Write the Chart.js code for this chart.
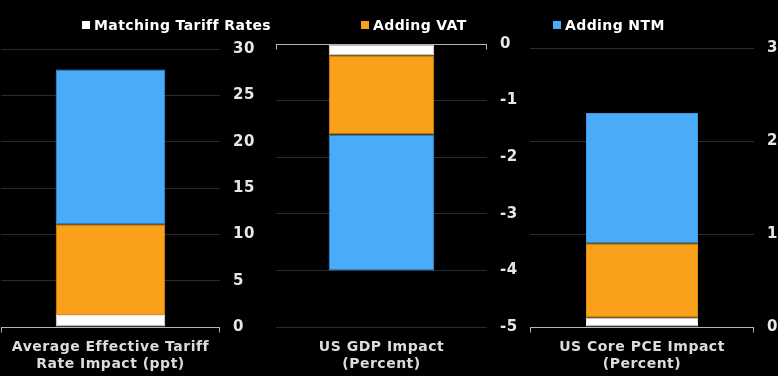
<!DOCTYPE html>
<html>
<head>
<meta charset="utf-8">
<script src="https://cdn.jsdelivr.net/npm/chart.js@4/dist/chart.umd.min.js"></script>
<style>
  html, body { margin: 0; padding: 0; background: #000; }
  #wrap { position: relative; width: 778px; height: 376px; background: #000; overflow: hidden; }
  .cv { position: absolute; top: 0; height: 376px; }
  .leg { position: absolute; top: 17px; font: bold 14px "DejaVu Sans", sans-serif; letter-spacing: 0.4px; color: #fff; white-space: nowrap; line-height: 16px; }
  .leg i { display: inline-block; width: 8px; height: 8px; margin-right: 4px; vertical-align: 1px; }
</style>
</head>
<body>
<div id="wrap">
  <div class="cv" style="left:0;width:262px"><canvas id="c1" width="262" height="376"></canvas></div>
  <div class="cv" style="left:262px;width:266px"><canvas id="c2" width="266" height="376"></canvas></div>
  <div class="cv" style="left:528px;width:250px"><canvas id="c3" width="250" height="376"></canvas></div>
  <div id="legend"></div>
</div>
<script>
// ---- data ----
const categories = [
  ["Average Effective Tariff", "Rate Impact (ppt)"],
  ["US GDP Impact", "(Percent)"],
  ["US Core PCE Impact", "(Percent)"]
];
const seriesNames = ["Matching Tariff Rates", "Adding VAT", "Adding NTM"];
const matchingTariff = [1.3, -0.2, 0.1];
const addingVAT = [9.8, -1.4, 0.8];
const addingNTM = [16.7, -2.4, 1.4];
const axisMin = [0, -5, 0];
const axisMax = [30, 0, 3];
const axisStep = [5, 1, 1];

// ---- styles ----
const fills = ["#ffffff", "#f9a11b", "#4aabf9"];
const edges = ["#e6e6e6", "#e08f14", "#3b97e0"];
const legendX = [82, 361, 553];
const padLeft = [1, 14, 2];
const axisW = [42, 41, 24];
const padTop = [49, 44, 48];

// legend (HTML text)
const legEl = document.getElementById('legend');
seriesNames.forEach((n, i) => {
  const d = document.createElement('div');
  d.className = 'leg';
  d.style.left = legendX[i] + 'px';
  d.innerHTML = '<i style="background:' + fills[i] + '"></i>' + n;
  legEl.appendChild(d);
});

const spacing = {
  id: 'spacing',
  beforeDraw(chart) { chart.ctx.letterSpacing = '0.5px'; }
};

const zeroAxis = {
  id: 'zeroAxis',
  afterDatasetsDraw(chart) {
    const y = Math.round(chart.scales.y.getPixelForValue(0)) + 0.5;
    const a = chart.chartArea, ctx = chart.ctx;
    ctx.save();
    ctx.strokeStyle = '#b4b4b4';
    ctx.lineWidth = 1;
    ctx.beginPath();
    ctx.moveTo(a.left, y); ctx.lineTo(a.right, y);
    ctx.moveTo(a.left + 0.5, y); ctx.lineTo(a.left + 0.5, y + 5);
    ctx.moveTo(a.right - 0.5, y); ctx.lineTo(a.right - 0.5, y + 5);
    ctx.stroke();
    ctx.restore();
  }
};

const all = [matchingTariff, addingVAT, addingNTM];
['c1', 'c2', 'c3'].forEach((id, p) => {
  new Chart(document.getElementById(id), {
    type: 'bar',
    data: {
      labels: [categories[p]],
      datasets: seriesNames.map((n, i) => ({
        label: n,
        data: [all[i][p]],
        backgroundColor: fills[i],
        borderColor: edges[i],
        borderWidth: 1,
        borderSkipped: false,
        barPercentage: 1,
        categoryPercentage: 0.5
      }))
    },
    options: {
      responsive: false,
      animation: false,
      devicePixelRatio: 1,
      layout: { padding: { left: padLeft[p], top: padTop[p], right: 0, bottom: 0 } },
      plugins: { legend: { display: false }, tooltip: { enabled: false } },
      scales: {
        x: {
          stacked: true,
          grid: { display: false },
          border: { display: false },
          afterFit: s => { s.height = 49; },
          ticks: {
            color: '#dcdcdc',
            padding: 4,
            font: { family: 'DejaVu Sans', weight: 'bold', size: 14, lineHeight: 1.2 },
            maxRotation: 0, autoSkip: false
          }
        },
        y: {
          stacked: true,
          position: 'right',
          min: axisMin[p], max: axisMax[p],
          afterFit: s => { s.width = axisW[p]; },
          grid: { color: '#2b2b2b', drawTicks: false },
          border: { display: false },
          ticks: {
            stepSize: axisStep[p],
            color: '#e6e6e6',
            padding: 13,
            font: { family: 'DejaVu Sans', weight: 'bold', size: 15 }
          }
        }
      }
    },
    plugins: [spacing, zeroAxis]
  });
});
</script>
</body>
</html>
